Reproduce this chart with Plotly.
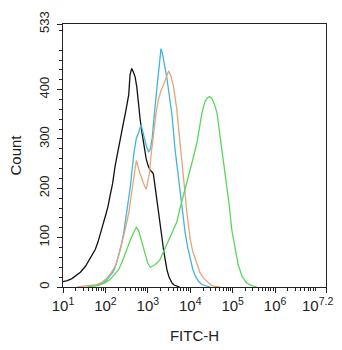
import plotly.graph_objects as go

# log10(FITC-H) positions and counts for each histogram
black_log = [1.00, 1.10, 1.21, 1.29, 1.41, 1.53, 1.60, 1.68, 1.76, 1.82, 1.88, 1.94, 2.00, 2.06, 2.11, 2.17, 2.23, 2.28, 2.33, 2.38, 2.43, 2.47, 2.51, 2.55, 2.58, 2.62, 2.66, 2.70, 2.74, 2.78, 2.82, 2.86, 2.91, 2.96, 3.01, 3.06, 3.10, 3.13, 3.18, 3.23, 3.29, 3.33, 3.37, 3.41, 3.45, 3.50, 3.57, 3.62, 3.68, 3.75]
black_cnt = [11, 13, 17, 22, 30, 42, 52, 62, 76, 90, 111, 126, 144, 163, 185, 210, 246, 270, 294, 316, 335, 352, 368, 390, 430, 443, 435, 426, 405, 368, 339, 314, 288, 260, 245, 236, 233, 229, 198, 164, 124, 100, 76, 55, 35, 20, 8, 4, 2, 0]

cyan_log = [1.80, 1.95, 2.04, 2.12, 2.19, 2.25, 2.31, 2.37, 2.43, 2.49, 2.55, 2.59, 2.62, 2.67, 2.73, 2.78, 2.84, 2.88, 2.92, 2.97, 3.02, 3.06, 3.10, 3.14, 3.17, 3.21, 3.25, 3.28, 3.31, 3.34, 3.37, 3.41, 3.45, 3.51, 3.57, 3.64, 3.72, 3.80, 3.88, 3.94, 4.00, 4.06, 4.12, 4.20, 4.27, 4.37, 4.47]
cyan_cnt = [3, 8, 15, 23, 32, 45, 62, 84, 109, 142, 177, 205, 231, 270, 302, 312, 329, 315, 299, 284, 273, 280, 299, 330, 366, 400, 434, 462, 483, 475, 460, 445, 423, 385, 348, 280, 219, 164, 110, 80, 56, 36, 22, 11, 5, 2, 0]

orange_log = [1.33, 1.60, 1.80, 1.92, 2.04, 2.13, 2.23, 2.31, 2.39, 2.47, 2.55, 2.61, 2.66, 2.70, 2.73, 2.77, 2.81, 2.85, 2.88, 2.92, 2.96, 3.00, 3.04, 3.08, 3.13, 3.19, 3.25, 3.31, 3.37, 3.43, 3.49, 3.54, 3.60, 3.68, 3.74, 3.80, 3.86, 3.92, 4.00, 4.06, 4.12, 4.18, 4.23, 4.31, 4.39, 4.49, 4.59, 4.70]
orange_cnt = [0, 2, 5, 10, 18, 28, 42, 62, 89, 118, 150, 190, 218, 240, 256, 240, 231, 222, 214, 205, 198, 212, 231, 270, 312, 350, 380, 398, 410, 425, 438, 428, 409, 362, 314, 260, 205, 151, 96, 72, 56, 40, 29, 18, 11, 4, 1, 0]

green_log = [1.57, 1.75, 1.88, 2.00, 2.11, 2.21, 2.31, 2.39, 2.47, 2.53, 2.59, 2.66, 2.73, 2.78, 2.82, 2.88, 2.94, 3.00, 3.06, 3.12, 3.17, 3.23, 3.29, 3.35, 3.41, 3.47, 3.53, 3.60, 3.68, 3.76, 3.84, 3.92, 4.00, 4.08, 4.16, 4.22, 4.27, 4.31, 4.35, 4.40, 4.45, 4.51, 4.57, 4.63, 4.68, 4.74, 4.80, 4.86, 4.92, 4.98, 5.05, 5.13, 5.22, 5.33, 5.45, 5.57]
green_cnt = [0, 2, 5, 9, 15, 24, 35, 50, 69, 84, 96, 109, 121, 115, 103, 82, 62, 48, 40, 42, 45, 50, 56, 68, 79, 90, 100, 115, 131, 160, 185, 210, 235, 265, 294, 330, 350, 365, 376, 383, 386, 382, 370, 353, 320, 287, 240, 204, 165, 115, 83, 45, 22, 8, 3, 0]

series = [
    ("black", black_log, black_cnt, "#111111"),
    ("cyan", cyan_log, cyan_cnt, "#42b4dc"),
    ("orange", orange_log, orange_cnt, "#e2a679"),
    ("green", green_log, green_cnt, "#5ad65a"),
]

y_major = [0, 100, 200, 300, 400, 533]
x_major_exp = [1, 2, 3, 4, 5, 6, 7.2]
NB = "\u00a0"
x_major_text = ["10<sup>1</sup>", "10<sup>2</sup>", "10<sup>3</sup>", "10<sup>4</sup>",
                "10<sup>5</sup>", "10<sup>6</sup>", "10<sup>7.2</sup>" + NB * 4]

fig = go.Figure()
for name, xs, ys, col in series:
    fig.add_trace(go.Scatter(
        x=[10 ** v for v in xs], y=ys, mode="lines", name=name,
        line=dict(color=col, width=1.3), showlegend=False,
    ))

x_minor = [m * 10 ** k for k in range(1, 8) for m in range(2, 10) if m * 10 ** k < 10 ** 7.2]
y_minor = [v for v in range(0, 533, 20) if v % 100 != 0]

fig.update_layout(
    width=342, height=350,
    margin=dict(l=63, r=16, t=24, b=63),
    paper_bgcolor="white", plot_bgcolor="white",
    font=dict(family="Liberation Sans, Arial, sans-serif", color="#222222", size=13),
    xaxis=dict(
        type="log", range=[1, 7.2], automargin=False,
        tickmode="array", tickvals=[10 ** v for v in x_major_exp], ticktext=x_major_text,
        ticks="outside", ticklen=5, tickwidth=1, tickcolor="#222",
        showline=True, linecolor="#222", linewidth=1, mirror=True,
        showgrid=False, zeroline=False,
        tickfont=dict(size=15), ticklabeloverflow="allow",
        minor=dict(tickmode="array", tickvals=x_minor, ticks="outside", ticklen=3,
                   tickcolor="#222", showgrid=False),
        title=dict(text="FITC-H", font=dict(size=15), standoff=17),
    ),
    yaxis=dict(
        range=[0, 533], automargin=False,
        tickmode="array", tickvals=y_major, ticktext=[str(v) for v in y_major],
        tickangle=-90,
        ticks="outside", ticklen=5, tickwidth=1, tickcolor="#222",
        showline=True, linecolor="#222", linewidth=1, mirror=True,
        showgrid=False, zeroline=False,
        tickfont=dict(size=13), ticklabeloverflow="allow",
        ticklabelstandoff=3,
        minor=dict(tickmode="array", tickvals=y_minor, ticks="outside", ticklen=3,
                   tickcolor="#222", showgrid=False),
        title=dict(text="Count", font=dict(size=15), standoff=11),
    ),
)

fig.write_html("out.html", config={"displayModeBar": False},
               post_script="document.body.style.margin='0';")
